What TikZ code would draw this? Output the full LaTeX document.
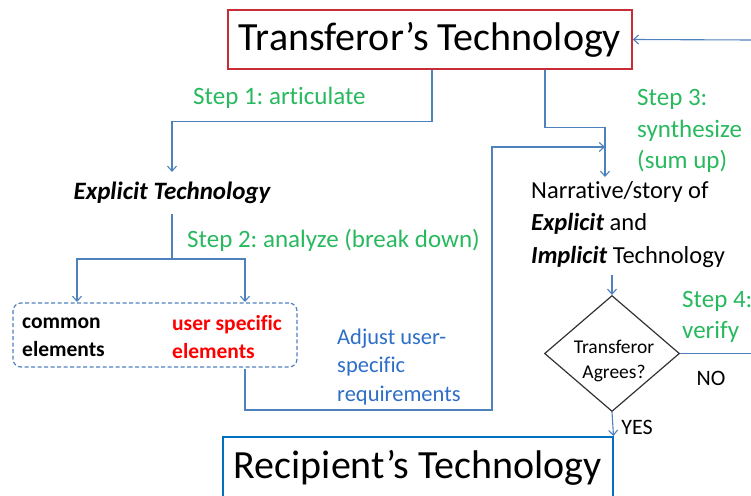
\documentclass[tikz,border=0pt]{standalone}
\usepackage{fontspec}
\setmainfont{Carlito}[Ligatures=NoCommon]
\usetikzlibrary{arrows.meta,shapes.geometric}
\definecolor{lineblue}{RGB}{79,129,189}
\definecolor{stepgreen}{RGB}{40,185,95}
\definecolor{tred}{RGB}{200,45,55}
\definecolor{rblue}{RGB}{0,112,192}
\definecolor{adjblue}{RGB}{45,110,200}
\definecolor{ured}{RGB}{255,0,0}
\frenchspacing
\begin{document}
\begin{tikzpicture}[x=1pt,y=-1pt,
  conn/.style={draw=lineblue, line width=1.1pt},
  arr/.style={conn, -{Straight Barb[length=5pt,width=9pt]}},
  steplbl/.style={text=stepgreen, font=\fontsize{25}{31.5}\selectfont, inner sep=0pt, align=left},
  bigbox/.style={line width=1.5pt, inner sep=0pt, font=\fontsize{40}{44}\selectfont},
  elem/.style={font=\bfseries\fontsize{21.5}{28}\selectfont, inner sep=0pt, align=left},
  small/.style={font=\fontsize{22}{24}\selectfont, inner sep=0pt}]
\useasboundingbox (0,0) rectangle (751,495);
\clip (0,0) rectangle (751,495);

% main boxes
\node[bigbox, draw=tred, minimum width=404pt, minimum height=59pt] (T) at (430,39.5) {Transferor’s Technology};
\node[bigbox, draw=rblue, minimum width=390pt, minimum height=62pt, anchor=north west] (R) at (222,436) {Recipient’s Technology};

% explicit technology
\node[font=\bfseries\itshape\fontsize{25}{28}\selectfont, inner xsep=2pt, inner ysep=10pt] (E) at (172,193) {Explicit Technology};

% dashed box with elements
\node[draw=lineblue, dashed, dash pattern=on 4pt off 2.5pt, rounded corners=8pt, line width=1.2pt, minimum width=284pt, minimum height=64pt] (B) at (155,335) {};
\node[elem, anchor=west] (cm) at (22,337) {common\\elements};
\node[elem, anchor=west, text=ured] (us) at (172,337) {user specific\\elements};

% narrative
\node[font=\fontsize{24.5}{32.5}\selectfont, inner sep=0pt, align=left, anchor=west] (N) at (531,224.5) {Narrative/story of\\\textbf{\textit{Explicit}} and\\\textbf{\textit{Implicit}} Technology};

% diamond
\node[diamond, draw=black!80, line width=1.2pt, minimum width=135pt, minimum height=116pt, inner sep=0pt] (D) at (612,353.5) {};
\node[font=\fontsize{19.5}{25}\selectfont, align=center, inner sep=0pt] (DT) at (614,361) {Transferor\\Agrees?};

% labels
\node[steplbl, anchor=west] (s1) at (193,98) {Step 1: articulate};
\node[steplbl, anchor=west] (s2) at (187,240) {Step 2: analyze (break down)};
\node[steplbl, anchor=west] (s3) at (637,131) {Step 3:\\synthesize\\(sum up)};
\node[steplbl, anchor=west] (s4) at (682,317) {Step 4:\\verify};
\node[font=\fontsize{22.5}{28.5}\selectfont, text=adjblue, inner sep=0pt, align=left, anchor=west] (adj) at (337,366.5) {Adjust user-\\specific\\requirements};
\node[small] (no) at (711,378) {NO};
\node[small] (yes) at (637,427) {YES};

% coordinates
\coordinate (split) at (172,259);
\coordinate (pA) at (77,302);
\coordinate (pB) at (245,302);
\coordinate (bOut) at (245,369);
\coordinate (nIn) at (605,147);
\coordinate (nTop) at (605,177);
\coordinate (nBot) at (612,275);
\coordinate (tR) at (752,40);
\coordinate (dR) at (752,353.5);

% connectors
\draw[arr] ([xshift=2pt]T.south) -- ++(0,52) -| (E.north);
\draw[conn] (E.south) -- (split);
\draw[arr] (split) -| (pA);
\draw[arr] (split) -| (pB);
\draw[arr] (bOut) |- (492,410) |- (nIn);
\draw[arr] ([xshift=115pt]T.south) -- ++(0,58) -| (nTop);
\draw[arr] (nBot) -- (D.north);
\draw[conn] (D.east) -- (dR);
\draw[arr] (tR) -- (T.east);
\draw[arr] (D.south) -- (R.north east);
\end{tikzpicture}
\end{document}
